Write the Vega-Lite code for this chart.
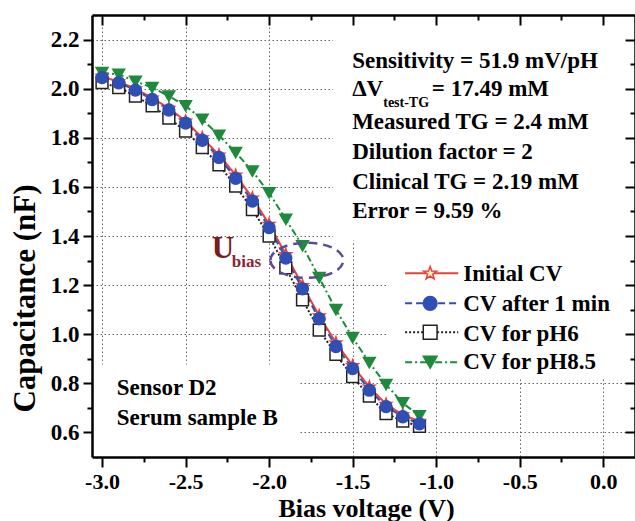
{
  "$schema": "https://vega.github.io/schema/vega-lite/v6.json",
  "width": 543,
  "height": 442,
  "autosize": "none",
  "padding": {"left": 92, "top": 15, "right": 0, "bottom": 64},
  "config": {"view": {"stroke": null}, "font": "Liberation Serif"},
  "datasets": {
    "series": [
      {"V":-3.0,"C":2.025,"s":"CV for pH6"},{"V":-2.9,"C":2.004,"s":"CV for pH6"},{"V":-2.8,"C":1.970,"s":"CV for pH6"},{"V":-2.7,"C":1.930,"s":"CV for pH6"},{"V":-2.6,"C":1.880,"s":"CV for pH6"},{"V":-2.5,"C":1.827,"s":"CV for pH6"},{"V":-2.4,"C":1.760,"s":"CV for pH6"},{"V":-2.3,"C":1.690,"s":"CV for pH6"},{"V":-2.2,"C":1.603,"s":"CV for pH6"},{"V":-2.1,"C":1.508,"s":"CV for pH6"},{"V":-2.0,"C":1.400,"s":"CV for pH6"},{"V":-1.9,"C":1.270,"s":"CV for pH6"},{"V":-1.8,"C":1.140,"s":"CV for pH6"},{"V":-1.7,"C":1.017,"s":"CV for pH6"},{"V":-1.6,"C":0.918,"s":"CV for pH6"},{"V":-1.5,"C":0.827,"s":"CV for pH6"},{"V":-1.4,"C":0.748,"s":"CV for pH6"},{"V":-1.3,"C":0.677,"s":"CV for pH6"},{"V":-1.2,"C":0.646,"s":"CV for pH6"},{"V":-1.1,"C":0.625,"s":"CV for pH6"},
      {"V":-3.0,"C":2.050,"s":"Initial CV"},{"V":-2.9,"C":2.028,"s":"Initial CV"},{"V":-2.8,"C":2.000,"s":"Initial CV"},{"V":-2.7,"C":1.962,"s":"Initial CV"},{"V":-2.6,"C":1.920,"s":"Initial CV"},{"V":-2.5,"C":1.868,"s":"Initial CV"},{"V":-2.4,"C":1.800,"s":"Initial CV"},{"V":-2.3,"C":1.730,"s":"Initial CV"},{"V":-2.2,"C":1.648,"s":"Initial CV"},{"V":-2.1,"C":1.555,"s":"Initial CV"},{"V":-2.0,"C":1.448,"s":"Initial CV"},{"V":-1.9,"C":1.325,"s":"Initial CV"},{"V":-1.8,"C":1.198,"s":"Initial CV"},{"V":-1.7,"C":1.075,"s":"Initial CV"},{"V":-1.6,"C":0.965,"s":"Initial CV"},{"V":-1.5,"C":0.872,"s":"Initial CV"},{"V":-1.4,"C":0.785,"s":"Initial CV"},{"V":-1.3,"C":0.715,"s":"Initial CV"},{"V":-1.2,"C":0.672,"s":"Initial CV"},{"V":-1.1,"C":0.645,"s":"Initial CV"},
      {"V":-3.0,"C":2.065,"s":"CV for pH8.5"},{"V":-2.9,"C":2.058,"s":"CV for pH8.5"},{"V":-2.8,"C":2.030,"s":"CV for pH8.5"},{"V":-2.7,"C":2.004,"s":"CV for pH8.5"},{"V":-2.6,"C":1.970,"s":"CV for pH8.5"},{"V":-2.5,"C":1.930,"s":"CV for pH8.5"},{"V":-2.4,"C":1.875,"s":"CV for pH8.5"},{"V":-2.3,"C":1.810,"s":"CV for pH8.5"},{"V":-2.2,"C":1.740,"s":"CV for pH8.5"},{"V":-2.1,"C":1.664,"s":"CV for pH8.5"},{"V":-2.0,"C":1.576,"s":"CV for pH8.5"},{"V":-1.9,"C":1.468,"s":"CV for pH8.5"},{"V":-1.8,"C":1.360,"s":"CV for pH8.5"},{"V":-1.7,"C":1.230,"s":"CV for pH8.5"},{"V":-1.6,"C":1.100,"s":"CV for pH8.5"},{"V":-1.5,"C":0.986,"s":"CV for pH8.5"},{"V":-1.4,"C":0.884,"s":"CV for pH8.5"},{"V":-1.3,"C":0.795,"s":"CV for pH8.5"},{"V":-1.2,"C":0.720,"s":"CV for pH8.5"},{"V":-1.1,"C":0.667,"s":"CV for pH8.5"},
      {"V":-3.0,"C":2.045,"s":"CV after 1 min"},{"V":-2.9,"C":2.024,"s":"CV after 1 min"},{"V":-2.8,"C":1.994,"s":"CV after 1 min"},{"V":-2.7,"C":1.956,"s":"CV after 1 min"},{"V":-2.6,"C":1.913,"s":"CV after 1 min"},{"V":-2.5,"C":1.860,"s":"CV after 1 min"},{"V":-2.4,"C":1.790,"s":"CV after 1 min"},{"V":-2.3,"C":1.720,"s":"CV after 1 min"},{"V":-2.2,"C":1.635,"s":"CV after 1 min"},{"V":-2.1,"C":1.542,"s":"CV after 1 min"},{"V":-2.0,"C":1.434,"s":"CV after 1 min"},{"V":-1.9,"C":1.310,"s":"CV after 1 min"},{"V":-1.8,"C":1.185,"s":"CV after 1 min"},{"V":-1.7,"C":1.063,"s":"CV after 1 min"},{"V":-1.6,"C":0.950,"s":"CV after 1 min"},{"V":-1.5,"C":0.860,"s":"CV after 1 min"},{"V":-1.4,"C":0.772,"s":"CV after 1 min"},{"V":-1.3,"C":0.705,"s":"CV after 1 min"},{"V":-1.2,"C":0.664,"s":"CV after 1 min"},{"V":-1.1,"C":0.635,"s":"CV after 1 min"}
    ],
    "boxes": [
      {"x1": -1.617, "x2": 0.19, "y1": 1.382, "y2": 2.3},
      {"x1": -1.287, "x2": 0.19, "y1": 0.824, "y2": 1.40},
      {"x1": -3.06, "x2": -1.826, "y1": 0.5, "y2": 0.877}
    ],
    "legend": [
      {"s": "Initial CV", "lx1": -1.186, "lx2": -0.868, "sx": -1.036, "sy": 1.248, "tx": -0.838, "ty": 1.216},
      {"s": "CV after 1 min", "lx1": -1.186, "lx2": -0.868, "sx": -1.036, "sy": 1.126, "tx": -0.838, "ty": 1.094},
      {"s": "CV for pH6", "lx1": -1.186, "lx2": -0.868, "sx": -1.036, "sy": 1.008, "tx": -0.838, "ty": 0.972},
      {"s": "CV for pH8.5", "lx1": -1.186, "lx2": -0.868, "sx": -1.036, "sy": 0.886, "tx": -0.838, "ty": 0.857}
    ],
    "notes": [
      {"x": -1.503, "y": 2.0855, "t": "Sensitivity = 51.9 mV/pH"},
      {"x": -1.503, "y": 1.970, "t": "ΔV"},
      {"x": -1.026, "y": 1.970, "t": "= 17.49 mM"},
      {"x": -1.503, "y": 1.834, "t": "Measured TG = 2.4 mM"},
      {"x": -1.503, "y": 1.712, "t": "Dilution factor = 2"},
      {"x": -1.503, "y": 1.593, "t": "Clinical TG = 2.19 mM"},
      {"x": -1.503, "y": 1.472, "t": "Error = 9.59 %"},
      {"x": -2.912, "y": 0.752, "t": "Sensor D2"},
      {"x": -2.912, "y": 0.630, "t": "Serum sample B"}
    ],
    "sub": [{"x": -1.317, "y": 1.927, "t": "test-TG"}],
    "ubig": [{"x": -2.343, "y": 1.3116, "t": "U"}],
    "usub": [{"x": -2.2234, "y": 1.275, "t": "bias"}],
    "ellipse": [{"x": -1.774, "y": 1.301}]
  },
  "resolve": {"axis": {"x": "independent", "y": "independent"}},
  "layer": [
    {
      "data": {"name": "boxes"},
      "mark": {"type": "rect", "fill": "white", "stroke": null},
      "encoding": {
        "x": {"field": "x1", "type": "quantitative", "scale": {"domain": [-3.06, 0.19], "nice": false, "zero": false},
              "axis": {"orient": "bottom", "values": [-3, -2.5, -2, -1.5, -1, -0.5, 0], "grid": true, "gridColor": "#666666", "gridDash": [1.5, 2.5], "gridWidth": 1, "domain": false, "ticks": false, "labels": false, "title": null, "zindex": 0}},
        "x2": {"field": "x2"},
        "y": {"field": "y1", "type": "quantitative", "scale": {"domain": [0.5, 2.3], "nice": false, "zero": false},
              "axis": {"orient": "left", "values": [0.6, 0.8, 1.0, 1.2, 1.4, 1.6, 1.8, 2.0, 2.2], "grid": true, "gridColor": "#666666", "gridDash": [1.5, 2.5], "gridWidth": 1, "domain": false, "ticks": false, "labels": false, "title": null, "zindex": 0}},
        "y2": {"field": "y2"}
      }
    },
    {
      "data": {"name": "series"},
      "mark": {"type": "line", "strokeWidth": 2},
      "encoding": {
        "x": {"field": "V", "type": "quantitative",
              "axis": {"orient": "bottom", "values": [-3, -2.5, -2, -1.5, -1, -0.5, 0], "labelExpr": "datum.value < 0 ? '-' + format(-datum.value, '.1f') : format(datum.value, '.1f')", "grid": false, "domain": true, "domainColor": "black", "domainWidth": 2.5, "tickColor": "black", "tickWidth": 2, "tickSize": 10, "labelFont": "Liberation Serif", "labelFontWeight": "bold", "labelFontSize": 22, "labelColor": "black", "labelPadding": 4, "labelFlush": false, "labelOverlap": false, "title": "Bias voltage (V)", "titleFont": "Liberation Serif", "titleFontWeight": "bold", "titleFontSize": 26, "titleColor": "black", "titleY": 59, "titleX": 274, "titleBaseline": "alphabetic", "zindex": 1}},
        "y": {"field": "C", "type": "quantitative",
              "axis": {"orient": "left", "values": [0.6, 0.8, 1.0, 1.2, 1.4, 1.6, 1.8, 2.0, 2.2], "format": ".1f", "grid": false, "domain": true, "domainColor": "black", "domainWidth": 2.5, "tickColor": "black", "tickWidth": 2, "tickSize": 9, "labelFont": "Liberation Serif", "labelFontWeight": "bold", "labelFontSize": 23, "labelColor": "black", "labelPadding": 4, "labelFlush": false, "labelOverlap": false, "title": "Capacitance (nF)", "titleFont": "Liberation Serif", "titleFontWeight": "bold", "titleFontSize": 31, "titleColor": "black", "titleAngle": -90, "titleX": -67, "titleY": 283, "titleAlign": "center", "titleBaseline": "middle", "zindex": 1}},
        "stroke": {"field": "s", "type": "nominal", "legend": null,
                   "scale": {"domain": ["Initial CV", "CV after 1 min", "CV for pH6", "CV for pH8.5"], "range": ["#e8413c", "#2f4fb5", "#222222", "#1f8a3c"]}},
        "strokeDash": {"field": "s", "type": "nominal", "legend": null,
                   "scale": {"domain": ["Initial CV", "CV after 1 min", "CV for pH6", "CV for pH8.5"], "range": [[1, 0], [7, 4], [2, 2], [7, 3, 2, 3]]}}
      }
    },
    {
      "data": {"name": "series"},
      "mark": {"type": "point", "filled": true, "strokeWidth": 1.5, "opacity": 1},
      "encoding": {
        "x": {"field": "V", "type": "quantitative",
              "axis": {"orient": "bottom", "values": [-2.75, -2.25, -1.75, -1.25, -0.75, -0.25], "grid": false, "domain": false, "labels": false, "title": null, "tickColor": "black", "tickWidth": 2, "tickSize": 5, "zindex": 1}},
        "y": {"field": "C", "type": "quantitative",
              "axis": {"orient": "left", "values": [0.7, 0.9, 1.1, 1.3, 1.5, 1.7, 1.9, 2.1], "grid": false, "domain": false, "labels": false, "title": null, "tickColor": "black", "tickWidth": 2, "tickSize": 5, "zindex": 1}},
        "shape": {"field": "s", "type": "nominal", "legend": null,
                  "scale": {"domain": ["Initial CV", "CV after 1 min", "CV for pH6", "CV for pH8.5"], "range": ["M0,-1L0.235,-0.324L0.951,-0.309L0.380,0.124L0.588,0.809L0,0.4L-0.588,0.809L-0.380,0.124L-0.951,-0.309L-0.235,-0.324Z", "circle", "square", "triangle-down"]}},
        "fill": {"field": "s", "type": "nominal", "legend": null,
                 "scale": {"domain": ["Initial CV", "CV after 1 min", "CV for pH6", "CV for pH8.5"], "range": ["#fff2b3", "#2f4fb5", "#ffffff", "#1f8a3c"]}},
        "stroke": {"field": "s", "type": "nominal", "legend": null},
        "size": {"value": 140}
      }
    },
    {
      "data": {"name": "legend"},
      "mark": {"type": "rule", "strokeWidth": 2},
      "encoding": {
        "x": {"field": "lx1", "type": "quantitative",
              "axis": {"orient": "top", "values": [-3, -2.5, -2, -1.5, -1, -0.5, 0], "grid": false, "domain": true, "domainColor": "black", "domainWidth": 2.5, "labels": false, "title": null, "tickColor": "black", "tickWidth": 2, "tickSize": -10, "zindex": 1}},
        "x2": {"field": "lx2"},
        "y": {"field": "sy", "type": "quantitative",
              "axis": {"orient": "right", "values": [0.6, 0.8, 1.0, 1.2, 1.4, 1.6, 1.8, 2.0, 2.2], "grid": false, "domain": true, "domainColor": "black", "domainWidth": 2.5, "labels": false, "title": null, "tickColor": "black", "tickWidth": 2, "tickSize": -10, "zindex": 1}},
        "stroke": {"field": "s", "type": "nominal", "legend": null},
        "strokeDash": {"field": "s", "type": "nominal", "legend": null}
      }
    },
    {
      "data": {"name": "legend"},
      "mark": {"type": "point", "filled": true, "strokeWidth": 1.5, "opacity": 1},
      "encoding": {
        "x": {"field": "sx", "type": "quantitative",
              "axis": {"orient": "top", "values": [-2.75, -2.25, -1.75, -1.25, -0.75, -0.25], "grid": false, "domain": false, "labels": false, "title": null, "tickColor": "black", "tickWidth": 2, "tickSize": -5, "zindex": 1}},
        "y": {"field": "sy", "type": "quantitative",
              "axis": {"orient": "right", "values": [0.7, 0.9, 1.1, 1.3, 1.5, 1.7, 1.9, 2.1], "grid": false, "domain": false, "labels": false, "title": null, "tickColor": "black", "tickWidth": 2, "tickSize": -5, "zindex": 1}},
        "shape": {"field": "s", "type": "nominal", "legend": null},
        "fill": {"field": "s", "type": "nominal", "legend": null},
        "stroke": {"field": "s", "type": "nominal", "legend": null},
        "size": {"value": 190}
      }
    },
    {
      "data": {"name": "legend"},
      "mark": {"type": "text", "align": "left", "baseline": "alphabetic", "font": "Liberation Serif", "fontWeight": "bold", "fontSize": 23, "color": "black"},
      "encoding": {
        "x": {"field": "tx", "type": "quantitative", "axis": null},
        "y": {"field": "ty", "type": "quantitative", "axis": null},
        "text": {"field": "s"}
      }
    },
    {
      "data": {"name": "notes"},
      "mark": {"type": "text", "align": "left", "baseline": "alphabetic", "font": "Liberation Serif", "fontWeight": "bold", "fontSize": 23, "color": "black"},
      "encoding": {
        "x": {"field": "x", "type": "quantitative", "axis": null},
        "y": {"field": "y", "type": "quantitative", "axis": null},
        "text": {"field": "t"}
      }
    },
    {
      "data": {"name": "sub"},
      "mark": {"type": "text", "align": "left", "baseline": "alphabetic", "font": "Liberation Serif", "fontWeight": "bold", "fontSize": 14, "color": "black"},
      "encoding": {
        "x": {"field": "x", "type": "quantitative", "axis": null},
        "y": {"field": "y", "type": "quantitative", "axis": null},
        "text": {"field": "t"}
      }
    },
    {
      "data": {"name": "ellipse"},
      "mark": {"type": "point", "filled": false, "shape": "M-1,0A1,0.48 0 1,1 1,0A1,0.48 0 1,1 -1,0Z", "size": 5329, "stroke": "#5b4a9a", "strokeWidth": 2.5, "strokeDash": [9, 6], "opacity": 1},
      "encoding": {
        "x": {"field": "x", "type": "quantitative", "axis": null},
        "y": {"field": "y", "type": "quantitative", "axis": null}
      }
    },
    {
      "data": {"name": "ubig"},
      "mark": {"type": "text", "align": "left", "baseline": "alphabetic", "font": "Liberation Serif", "fontWeight": "bold", "fontSize": 31, "color": "#7a1a22"},
      "encoding": {
        "x": {"field": "x", "type": "quantitative", "axis": null},
        "y": {"field": "y", "type": "quantitative", "axis": null},
        "text": {"field": "t"}
      }
    },
    {
      "data": {"name": "usub"},
      "mark": {"type": "text", "align": "left", "baseline": "alphabetic", "font": "Liberation Serif", "fontWeight": "bold", "fontSize": 17, "color": "#8b2535"},
      "encoding": {
        "x": {"field": "x", "type": "quantitative", "axis": null},
        "y": {"field": "y", "type": "quantitative", "axis": null},
        "text": {"field": "t"}
      }
    }
  ]
}
